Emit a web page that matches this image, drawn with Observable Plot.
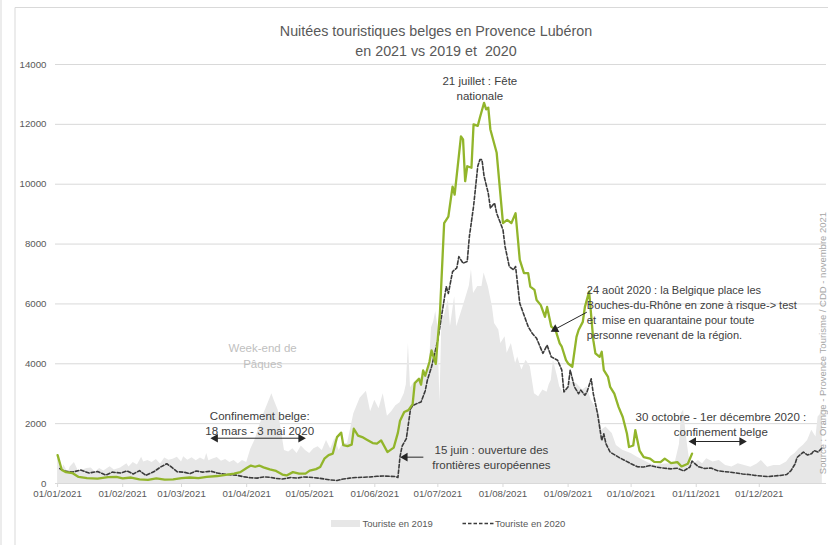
<!DOCTYPE html>
<html>
<head>
<meta charset="utf-8">
<script src="https://cdn.jsdelivr.net/npm/d3@7"></script>
<script src="https://cdn.jsdelivr.net/npm/@observablehq/plot@0.6"></script>
<style>
  html, body { margin: 0; padding: 0; background: white; }
  #chart { position: relative; width: 828px; height: 545px; overflow: hidden; }
</style>
</head>
<body>
<div id="chart"></div>
<script>
// ---------- DATA (day offsets from 01/01/2021) ----------
const days2021 = [0,2,4,7,10,14,19,24,28,31,35,39,43,47,51,55,59,63,67,71,76,80,84,87,90,92,94,96,98,101,104,107,109,112,115,118,120,123,125,127,129,131,133,135,136,138,140,141,143,145,147,150,152,154,157,160,162,163,165,167,169,170,172,173,174,175,177,178,180,182,184,186,188,189,192,193,194,195,197,198,200,201,203,204,205,206,209,212,214,216,218,220,222,224,225,227,228,230,232,233,235,237,239,240,242,243,245,247,248,250,251,253,255,256,258,259,260,262,263,265,267,269,271,272,274,275,277,279,282,284,287,289,292,295,297,300,302];
const tourists2021 = [950,450,380,350,220,180,160,210,220,170,200,140,120,170,130,140,180,200,180,220,250,290,330,380,520,600,560,600,540,470,420,300,270,380,330,330,430,480,550,830,950,1000,1550,1700,1280,1250,1300,1830,1600,1550,1470,1350,1330,1440,1050,1200,1700,2100,2390,2450,2650,3350,3500,3300,3780,3600,4060,4450,4000,5700,8700,8920,9920,9650,11600,11500,10100,10600,10550,12000,11950,12220,12720,12500,12560,11830,11050,8700,8810,8700,9030,7470,7030,7030,6580,6470,6130,5960,5570,5900,5240,5130,4680,4570,4120,4010,3900,4900,5130,5400,5900,6410,4790,4350,4230,4400,3790,3560,3230,3000,2560,2220,1670,1220,1270,1780,1100,880,830,720,715,830,680,715,570,660,1000];

const days2020 = [1,3,7,11,15,19,23,26,30,33,36,39,42,46,49,52,54,57,60,63,66,69,73,76,79,82,85,89,92,95,98,101,104,107,111,114,117,120,124,127,130,133,136,139,142,146,149,152,155,158,161,162,163,164,166,168,169,171,173,175,176,178,181,183,185,186,188,190,191,193,195,196,198,200,201,202,203,205,206,208,209,212,213,215,217,218,220,224,226,228,231,233,235,238,240,241,243,244,246,248,249,251,252,254,255,257,259,260,261,263,267,270,273,276,279,282,285,289,292,295,298,301,302,305,308,311,314,317,320,323,326,329,332,335,338,341,344,347,349,351,352,355,357,359,360,362,364];
const tourists2020 = [500,420,380,450,350,400,280,380,350,420,320,430,270,400,550,660,560,390,380,330,420,380,410,350,320,290,280,220,190,180,220,210,170,150,200,180,220,210,180,150,120,100,150,180,200,210,220,240,250,240,230,200,900,1250,1500,2500,2600,2670,2720,3100,3450,3900,4800,5700,6580,6350,7080,7200,7580,7360,7420,8250,9260,10600,10820,10820,10270,9700,9200,9370,9030,8480,7920,7250,7140,7250,6020,5240,5010,4850,4350,4620,4230,4120,3790,3060,3230,3790,3230,3000,3120,2950,3060,3500,3000,2340,1440,1660,1330,1050,880,770,660,560,550,600,550,510,490,510,420,550,750,560,500,520,430,400,380,350,320,300,270,250,230,250,270,300,420,650,870,1050,950,1000,1100,1050,1200];

const days2019 = [0,1,2,3,5,6,8,10,12,14,16,18,20,22,25,27,30,33,34,36,38,40,41,43,45,47,49,51,53,55,57,59,60,62,64,66,68,70,71,72,74,76,78,80,82,84,86,88,90,92,94,96,98,100,102,103,105,107,108,110,112,114,116,118,120,122,124,126,128,130,132,134,136,138,141,144,147,149,151,153,155,157,159,161,163,165,166,167,168,170,172,174,176,177,178,179,180,181,182,183,184,186,187,189,190,192,194,196,197,198,200,202,203,205,207,208,210,211,213,214,216,218,219,221,223,225,227,229,231,233,234,235,236,238,239,241,244,247,250,252,254,256,258,259,261,264,266,269,273,276,279,282,285,288,291,294,296,297,298,299,300,301,303,305,307,309,312,315,318,321,324,327,330,333,335,338,341,344,347,349,351,353,355,357,359,361,362,363,364];
const tourists2019 = [900,600,450,620,350,550,700,400,450,500,520,380,500,420,560,450,520,660,550,700,620,880,720,770,700,800,650,850,780,810,880,720,890,780,860,760,850,780,1000,760,820,870,740,800,700,770,650,770,700,1150,1450,1900,2300,2650,3000,2800,2450,1550,1100,1050,1160,1000,1250,1100,1000,1160,1230,1100,1440,1150,1500,1100,1350,1330,2330,2850,3080,2400,2780,2500,3000,2250,2400,2600,2700,3000,3300,4680,3200,3400,3500,3560,3700,4000,5200,5400,5750,5240,2700,5680,5570,6130,5240,6240,5240,5680,6130,6600,7140,6350,6580,6580,7030,6580,5900,5350,5130,4680,4900,4350,4680,4010,4230,3790,4120,3900,3000,2900,3120,3050,3300,3450,4120,3560,3230,3000,3400,3340,3120,3230,2780,2560,2340,1780,1890,1670,1270,1110,1000,880,770,660,600,640,660,700,1300,2350,2450,1780,1200,700,650,770,660,830,720,770,600,550,660,600,545,650,770,545,600,600,720,900,1000,1160,1280,1440,1780,1550,2220,2300,2600];

const yTicks = [0, 2000, 4000, 6000, 8000, 10000, 12000, 14000];
const monthStarts = [0, 31, 59, 90, 120, 151, 181, 212, 243, 273, 304, 334];

const titleLines = ["Nuitées touristiques belges en Provence Lubéron", "en 2021 vs 2019 et\u00a0 2020"];
const legendLabels = ["Touriste en 2019", "Touriste en 2020"];
const sourceText = "Source : Orange - Provence Tourisme / CDD - novembre 2021";

// annotations (position in data units: day offset, value)
const noteTexts = [
  "21 juillet : Fête\nnationale",
  "Confinement belge:\n18 mars - 3 mai 2020",
  "15 juin : ouverture des\nfrontières européennes",
  "30 octobre - 1er décembre 2020 :\nconfinement belge"
];
const noteDays = [201, 96.2, 206.5, 315.7];
const noteValues = [13230, 2020, 902, 2004];
const easterText = "Week-end de\nPâques";
const easterDay = 97.6, easterValue = 4290;
const augText = "24 août 2020 : la Belgique place les\nBouches-du-Rhône en zone à risque-> test\net\u00a0 mise en quarantaine pour toute\npersonne revenant de la région.";
const augDay = 251.9, augValue = 5740;

// arrows: segments [day1, value1, day2, value2]
const arrowSegs = [
  [73.8, 1513, 117.1, 1513],
  [174.1, 880, 164.1, 880],
  [251.9, 5723, 235.6, 5110],
  [301.4, 1403, 327.0, 1403]
];
// arrow heads: [day, value, rotation]
const arrowHeads = [
  [75.1, 1513, 270], [115.8, 1513, 90],
  [165.4, 880, 270],
  [236.8, 5152, 242],
  [302.7, 1403, 270], [325.7, 1403, 90]
];

// ---------- BUILD ----------
const base = Date.UTC(2021, 0, 1);
const toDate = d => new Date(base + d * 864e5);
const mk = (days, vals) => days.map((d, i) => ({date: toDate(d), value: vals[i]}));
const d2021 = mk(days2021, tourists2021);
const d2020 = mk(days2020, tourists2020);
const d2019 = mk(days2019, tourists2019);
const notes = noteTexts.map((t, i) => ({date: toDate(noteDays[i]), value: noteValues[i], text: t}));
const segs = arrowSegs.map(s => ({x1: toDate(s[0]), y1: s[1], x2: toDate(s[2]), y2: s[3]}));
const heads = arrowHeads.map(h => ({date: toDate(h[0]), value: h[1], rot: h[2]}));

const FONT = "'Liberation Sans', Arial, sans-serif";

const plot = Plot.plot({
  width: 828,
  height: 545,
  marginTop: 64,
  marginBottom: 62,
  marginLeft: 55,
  marginRight: 2,
  style: {fontFamily: FONT, background: "white", color: "#595959", overflow: "visible"},
  x: {type: "utc", domain: [toDate(-1), toDate(366)], label: null},
  y: {domain: [0, 14000], label: null},
  marks: [
    Plot.gridY(yTicks.filter(v => v > 0), {stroke: "#d9d9d9", strokeOpacity: 1}),
    Plot.areaY(d2019, {x: "date", y: "value", fill: "#e7e7e7", fillOpacity: 1}),
    Plot.ruleY([0], {stroke: "#d9d9d9"}),
    Plot.lineY(d2020, {x: "date", y: "value", stroke: "#3b3b3b", strokeWidth: 1.6, strokeDasharray: "3.5,2"}),
    Plot.lineY(d2021, {x: "date", y: "value", stroke: "#92b52b", strokeWidth: 2.3}),
    Plot.axisX(monthStarts.map(toDate), {tickFormat: d3.utcFormat("%d/%m/%Y"), tickSize: 4, tickPadding: 3, fontSize: 9.7, stroke: "#d9d9d9", fill: "#595959", label: null}),
    Plot.axisY(yTicks, {tickFormat: d => String(d), tickSize: 0, tickPadding: 9, fontSize: 9.7, fill: "#595959", label: null}),
    Plot.text(notes, {x: "date", y: "value", text: "text", fontSize: 11.5, fill: "#404040", lineHeight: 1.3}),
    Plot.text([{date: toDate(easterDay), value: easterValue, text: easterText}], {x: "date", y: "value", text: "text", fontSize: 11.5, fill: "#bfbfbf", lineHeight: 1.35}),
    Plot.text([{date: toDate(augDay), value: augValue, text: augText}], {x: "date", y: "value", text: "text", fontSize: 11, fill: "#404040", lineHeight: 1.38, textAnchor: "start"}),
    Plot.link(segs, {x1: "x1", y1: "y1", x2: "x2", y2: "y2", stroke: "#262626", strokeWidth: 1}),
    Plot.dot(heads, {x: "date", y: "value", rotate: "rot", symbol: "triangle", r: 3.2, fill: "#262626", stroke: "none"})
  ]
});

const holder = document.getElementById("chart");
holder.appendChild(plot);

// extra text/frame drawn into the same svg
const svg = d3.select(plot);
svg.append("line").attr("x1", 1).attr("x2", 1).attr("y1", 0).attr("y2", 545).attr("stroke", "#d9d9d9");
svg.append("path").attr("d", "M15,545 L15,7.5 L830,7.5").attr("fill", "none").attr("stroke", "#d9d9d9");

const title = svg.append("g").attr("font-family", FONT).attr("font-size", 14.3).attr("fill", "#595959").attr("text-anchor", "middle");
titleLines.forEach((t, i) => title.append("text").attr("x", 436).attr("y", 35.5 + i * 20).text(t));

const leg = svg.append("g").attr("font-family", FONT).attr("font-size", 9.5).attr("fill", "#595959").attr("text-anchor", "start");
leg.append("rect").attr("x", 331).attr("y", 520).attr("width", 29).attr("height", 7).attr("fill", "#e7e7e7");
leg.append("text").attr("x", 362.5).attr("y", 527.3).attr("text-anchor", "start").text(legendLabels[0]);
leg.append("line").attr("x1", 462.5).attr("x2", 494).attr("y1", 523.5).attr("y2", 523.5).attr("stroke", "#3b3b3b").attr("stroke-width", 1.6).attr("stroke-dasharray", "3.5,2");
leg.append("text").attr("x", 495).attr("y", 527.3).attr("text-anchor", "start").text(legendLabels[1]);

svg.append("text").attr("transform", "translate(825.5,343) rotate(-90)").attr("text-anchor", "middle")
  .attr("font-family", FONT).attr("font-size", 9.5).attr("fill", "#a6a6a6").text(sourceText);
</script>
</body>
</html>
